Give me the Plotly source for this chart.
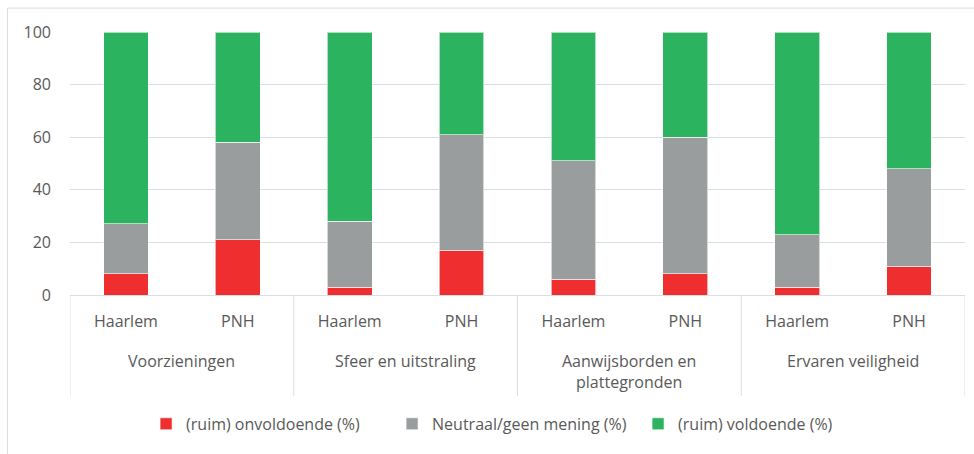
import plotly.graph_objects as go

group_names = ["Voorzieningen", "Sfeer en uitstraling",
               "Aanwijsborden en<br>plattegronden", "Ervaren veiligheid"]
region_names = ["Haarlem", "PNH"]

groups = [g for g in group_names for _ in region_names]
regions = region_names * len(group_names)

onvoldoende = [8, 21, 3, 17, 6, 8, 3, 11]
neutraal = [19, 37, 25, 44, 45, 52, 20, 37]
voldoende = [73, 42, 72, 39, 49, 40, 77, 52]

series_names = ["(ruim) onvoldoende (%)", "Neutraal/geen mening (%)", "(ruim) voldoende (%)"]
colors = ["#EE2E2F", "#9A9D9E", "#2BB35F"]

cats = [f"{g}|{r}" for g, r in zip(groups, regions)]

fig = go.Figure()
for name, vals, col in zip(series_names, [onvoldoende, neutraal, voldoende], colors):
    fig.add_trace(go.Bar(
        x=cats, y=vals, name=name,
        marker=dict(color=col, line=dict(color="rgba(255,255,255,0.6)", width=1)),
    ))

font_family = "Open Sans, DejaVu Sans, sans-serif"
text_col = "#595959"
line_col = "#D9DEE3"

n_per = len(region_names)
annotations = []
shapes = []
for i, g in enumerate(group_names):
    center = i * n_per + (n_per - 1) / 2
    annotations.append(dict(x=center, xref="x", y=-0.2, yref="paper", yanchor="top",
                            text=g, showarrow=False, align="center",
                            font=dict(size=16, color=text_col, family=font_family)))
for i in range(len(group_names) + 1):
    xpos = i * n_per - 0.5
    shapes.append(dict(type="line", xref="x", yref="paper", x0=xpos, x1=xpos, y0=0, y1=-0.384,
                       line=dict(color=line_col, width=1)))
shapes.append(dict(type="rect", xref="paper", yref="paper",
                   x0=-0.0698, x1=1.02, y0=-0.65, y1=1.091,
                   line=dict(color=line_col, width=1), fillcolor="rgba(0,0,0,0)", layer="below"))

fig.update_layout(
    barmode="stack",
    bargap=0.6,
    width=974, height=454,
    margin=dict(l=70, r=9, t=32, b=159),
    paper_bgcolor="white", plot_bgcolor="white",
    font=dict(family=font_family, size=16, color=text_col),
    showlegend=True,
    legend=dict(orientation="h", x=0.085, xanchor="left", y=-0.49, yanchor="middle",
                font=dict(size=16, color=text_col), itemwidth=30, traceorder="normal",
                entrywidth=201, entrywidthmode="pixels"),
    xaxis=dict(type="category", showline=True, linecolor=line_col, linewidth=1,
               tickmode="array", tickvals=cats, ticktext=regions,
               ticks="", ticklabelstandoff=12, tickfont=dict(size=16, color=text_col),
               showgrid=False, range=[-0.5, len(cats) - 0.5]),
    yaxis=dict(range=[0, 100], dtick=20, showgrid=True, gridcolor=line_col, gridwidth=1,
               zeroline=False, showline=False, ticks="", ticklabelstandoff=18,
               tickfont=dict(size=16, color=text_col)),
    annotations=annotations,
    shapes=shapes,
)

fig.write_html("out.html")
